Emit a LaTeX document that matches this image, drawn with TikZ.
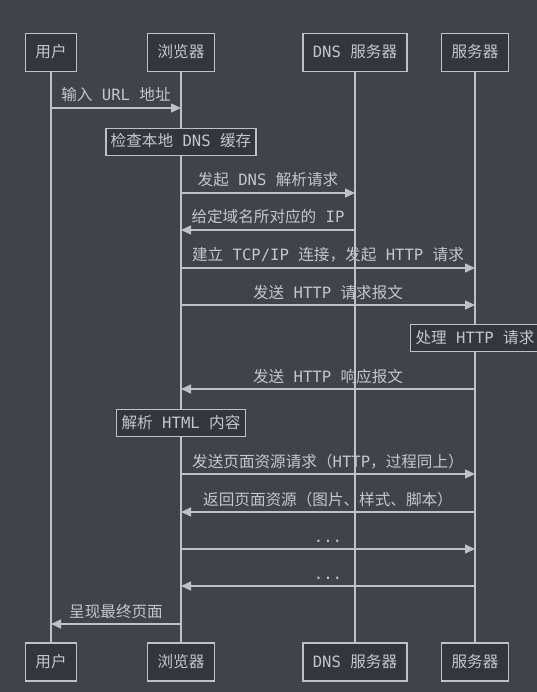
\documentclass[tikz,border=0pt]{standalone}
\usepackage{fontspec}
\setmainfont{Noto Sans CJK SC}
\setmonofont{DejaVu Sans Mono}
\usetikzlibrary{arrows.meta}
\definecolor{bg}{HTML}{41434B}
\definecolor{boxfill}{HTML}{34363D}
\definecolor{stroke}{HTML}{BFC1C7}
\definecolor{ink}{HTML}{C4C6CC}
\newcommand\ascii[1]{{\ttfamily #1}}
\tikzset{
  actor/.style={draw=stroke, fill=boxfill, line width=1.6pt, text=ink, minimum height=38pt, inner xsep=10pt, text height=12pt, text depth=2pt},
  note/.style={draw=stroke, fill=boxfill, line width=1.6pt, text=ink, minimum height=27pt, inner xsep=5pt, text height=12pt, text depth=2pt},
  lifeline/.style={draw=stroke, line width=1.6pt},
  msg/.style={draw=stroke, line width=1.4pt, -{Triangle[length=10pt,width=9pt]}},
  lab/.style={text=ink, inner sep=0pt, text height=12pt, text depth=2pt, yshift=12pt},
}

\begin{document}
\begin{tikzpicture}[x=1pt, y=-1pt, every node/.style={font=\fontsize{15.6pt}{18pt}\selectfont}]
\fill[bg] (0,0) rectangle (537,692);
\useasboundingbox (0,0) rectangle (537,692);

% participants, top and bottom
\node[actor] (user) at (51,52.5) {用户};
\node[actor] (browser) at (181,52.5) {浏览器};
\node[actor] (dns) at (355,52.5) {\ascii{DNS }服务器};
\node[actor] (server) at (475,52.5) {服务器};
\node[actor] (user-end) at (51,662) {用户};
\node[actor] (browser-end) at (181,662) {浏览器};
\node[actor] (dns-end) at (355,662) {\ascii{DNS }服务器};
\node[actor] (server-end) at (475,662) {服务器};

% lifelines
\draw[lifeline] (user) -- (user-end);
\draw[lifeline] (browser) -- (browser-end);
\draw[lifeline] (dns) -- (dns-end);
\draw[lifeline] (server) -- (server-end);

% rows of messages and notes
\foreach \r/\y in {m1/108, m2/193, m3/230, m4/268, m5/305, m6/389, m7/474,
                   m8/512, m9/549, m10/586, m11/624, n1/142, n2/338, n3/423}
  \coordinate (\r) at (0,\y);

% messages
\draw[msg] (user |- m1) -- (browser |- m1) node[lab, midway] {输入\ascii{ URL }地址};
\draw[msg] (browser |- m2) -- (dns |- m2) node[lab, midway] {发起\ascii{ DNS }解析请求};
\draw[msg] (dns |- m3) -- (browser |- m3) node[lab, midway] {给定域名所对应的\ascii{ IP}};
\draw[msg] (browser |- m4) -- (server |- m4) node[lab, midway] {建立\ascii{ TCP/IP }连接，发起\ascii{ HTTP }请求};
\draw[msg] (browser |- m5) -- (server |- m5) node[lab, midway] {发送\ascii{ HTTP }请求报文};
\draw[msg] (server |- m6) -- (browser |- m6) node[lab, midway] {发送\ascii{ HTTP }响应报文};
\draw[msg] (browser |- m7) -- (server |- m7) node[lab, midway] {发送页面资源请求（\ascii{HTTP}，过程同上）};
\draw[msg] (server |- m8) -- (browser |- m8) node[lab, midway] {返回页面资源（图片、样式、脚本）};
\draw[msg] (browser |- m9) -- (server |- m9) node[lab, midway] {\ascii{...}};
\draw[msg] (server |- m10) -- (browser |- m10) node[lab, midway] {\ascii{...}};
\draw[msg] (browser |- m11) -- (user |- m11) node[lab, midway] {呈现最终页面};

% notes on the lifelines
\node[note] (cache) at (browser |- n1) {检查本地\ascii{ DNS }缓存};
\node[note] (handle) at (server |- n2) {处理\ascii{ HTTP }请求};
\node[note] (parse) at (browser |- n3) {解析\ascii{ HTML }内容};
\end{tikzpicture}
\end{document}
